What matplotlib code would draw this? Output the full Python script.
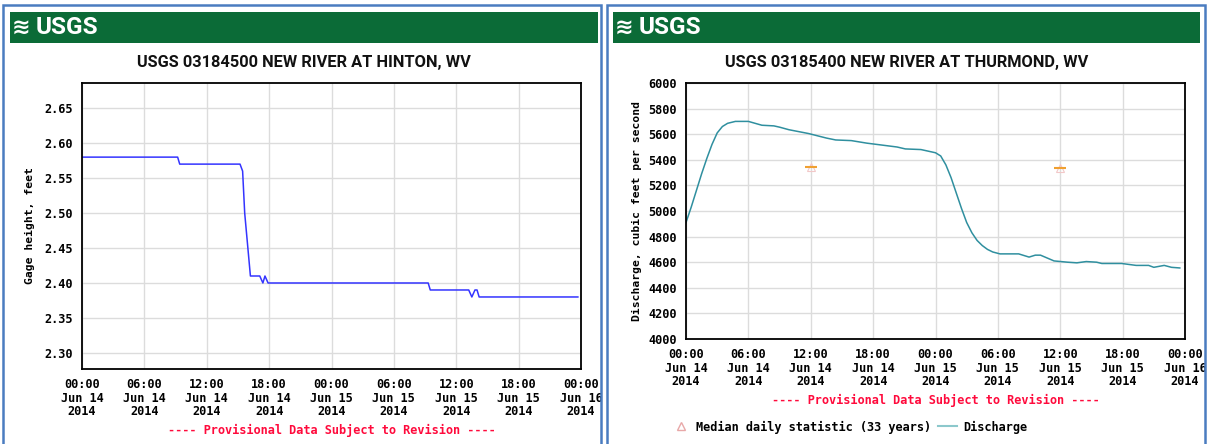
import datetime as dt
import matplotlib
matplotlib.use('Agg')
import matplotlib.pyplot as plt
import matplotlib.dates as mdates
from matplotlib.patches import Rectangle
from matplotlib.lines import Line2D

# --- data (hours after 00:00 Jun 14 2014) ---
start = dt.datetime(2014, 6, 14)

hinton_title = 'USGS 03184500 NEW RIVER AT HINTON, WV'
hinton_hours = [0, 9.2, 9.4, 15.2, 15.45, 15.65, 16.2, 17.1, 17.4, 17.6, 17.9,
                33.3, 33.5, 37.2, 37.5, 37.8, 38.0, 38.2, 47.7]
hinton_ft = [2.58, 2.58, 2.57, 2.57, 2.56, 2.50, 2.41, 2.41, 2.40, 2.41, 2.40,
             2.40, 2.39, 2.39, 2.38, 2.39, 2.39, 2.38, 2.38]

thurmond_title = 'USGS 03185400 NEW RIVER AT THURMOND, WV'
thurmond_hours = [0, 0.5, 1.0, 1.5, 2.0, 2.5, 3.0, 3.5, 4.0, 4.75, 6.0, 7.3, 8.45, 9.0,
                  9.9, 11.8, 13.5, 14.4, 15.9, 17.4, 18.85, 20.3, 21.1, 22.6, 24.0,
                  24.5, 25.0, 25.5, 26.0, 26.5, 27.0, 27.5, 28.0, 28.5, 29.0, 29.5,
                  30.2, 32.0, 33.0, 33.6, 34.1, 35.4, 36.7, 37.6, 38.5, 39.5, 40.0,
                  41.9, 43.3, 44.5, 45.0, 46.0, 46.7, 47.5]
thurmond_cfs = [4910, 5030, 5160, 5290, 5410, 5520, 5610, 5660, 5685, 5700, 5700, 5670, 5665, 5655,
                5635, 5605, 5570, 5555, 5550, 5530, 5515, 5500, 5485, 5480, 5455,
                5430, 5360, 5260, 5140, 5020, 4910, 4830, 4770, 4730, 4700, 4680,
                4665, 4665, 4640, 4655, 4655, 4610, 4600, 4595, 4605, 4600, 4590,
                4590, 4575, 4575, 4560, 4575, 4560, 4555]

median_hours = [12, 36]
median_cfs = [5340, 5335]

W, H = 1209, 444
mono = 'DejaVu Sans Mono'
narrow = ['Roboto', 'DejaVu Sans']
fs = 8.6
prov_red = '#ff0a3c'
prov_text = '---- Provisional Data Subject to Revision ----'


def to_time(hours):
    return [start + dt.timedelta(hours=h) for h in hours]


def fx(px):
    return px / W


def fy(py):
    return 1 - py / H


def make_axes(fig, left, top, right, bottom):
    return fig.add_axes([fx(left), fy(bottom), fx(right - left), (bottom - top) / H])


def style_axes(ax, ylim, yticks, yfmt):
    ax.set_xlim(start, start + dt.timedelta(hours=48))
    ax.set_ylim(ylim)
    ax.xaxis.set_major_locator(mdates.HourLocator(byhour=[0, 6, 12, 18]))
    ax.xaxis.set_major_formatter(mdates.DateFormatter('%H:%M\n%b %d\n%Y'))
    ax.set_yticks(yticks)
    ax.set_yticklabels([yfmt.format(v) for v in yticks])
    ax.grid(True, color='#dcdcdc', lw=1)
    ax.set_axisbelow(True)
    ax.tick_params(length=0, pad=6.5, labelsize=fs)
    for lab in ax.get_xticklabels() + ax.get_yticklabels():
        lab.set_family(mono)
        lab.set_fontweight('bold')
        lab.set_linespacing(1.05)
    for sp in ax.spines.values():
        sp.set_color('black')
        sp.set_linewidth(1.3)


fig = plt.figure(figsize=(W / 100, H / 100), dpi=100)

# panel decorations: banner, logo, title
for x0, x1, title in [(10, 598, hinton_title), (613, 1200, thurmond_title)]:
    fig.add_artist(Rectangle((fx(x0), fy(43)), fx(x1 - x0), 31 / H,
                             transform=fig.transFigure, color='#0b6b37', lw=0))
    fig.text(fx(x0 + 2), fy(28), '\u224b', color='white', fontsize=16,
             fontweight='bold', ha='left', va='center', family='DejaVu Sans')
    fig.text(fx(x0 + 26), fy(28), 'USGS', color='white', fontsize=17.5,
             fontweight='bold', ha='left', va='center', family=narrow)
    fig.text(fx((x0 + x1) / 2), fy(62), title, fontsize=11.8, fontweight='bold',
             ha='center', va='center', family=narrow, color='#111111')

# left: gage height at Hinton
ax1 = make_axes(fig, 82, 83, 581, 369)
ax1.plot(to_time(hinton_hours), hinton_ft, color='#3434ff', lw=1.1)
style_axes(ax1, (2.277, 2.686), [2.30, 2.35, 2.40, 2.45, 2.50, 2.55, 2.60, 2.65], '{:.2f}')
ax1.set_ylabel('Gage height, feet', family=mono, fontweight='bold', fontsize=fs - 0.4)
ax1.yaxis.set_label_coords(-0.094, 0.5)
fig.text(fx(331.5), fy(430), prov_text, ha='center', va='center', family=mono,
         fontsize=fs, fontweight='bold', color=prov_red)

# right: discharge at Thurmond
ax2 = make_axes(fig, 686, 83, 1185, 339)
ax2.plot(to_time(thurmond_hours), thurmond_cfs, color='#2f8f9f', lw=1.1)
ax2.plot(to_time(median_hours), median_cfs, ls='none', marker='^', ms=6,
         mfc='none', mec='#f2c8c8', mew=0.8)
ax2.plot(to_time(median_hours), median_cfs, ls='none', marker='_', ms=9,
         mec='#f0a030', mew=1.5)
style_axes(ax2, (4000, 6000), list(range(4000, 6001, 200)), '{:d}')
ax2.set_ylabel('Discharge, cubic feet per second', family=mono, fontweight='bold',
               fontsize=fs - 0.4)
ax2.yaxis.set_label_coords(-0.089, 0.5)
fig.text(fx(935.5), fy(400), prov_text, ha='center', va='center', family=mono,
         fontsize=fs, fontweight='bold', color=prov_red)

handles = [Line2D([], [], ls='none', marker='^', ms=6, mfc='none', mec='#e8a8a8'),
           Line2D([], [], color='#8cc8cc', lw=1.5)]
leg = fig.legend(handles, ['Median daily statistic (33 years)', 'Discharge'],
                 loc='center left', bbox_to_anchor=(fx(665), fy(427)), ncol=2,
                 frameon=False, handlelength=1.6, handletextpad=0.5, columnspacing=0.6,
                 borderpad=0, prop={'family': mono, 'weight': 'bold', 'size': fs})

# panel borders; the white strips clip the last tick label like the page does
for x0, x1 in [(602, 607), (1206, 1209)]:
    fig.add_artist(Rectangle((fx(x0), 0), fx(x1 - x0), 1, transform=fig.transFigure,
                             color='white', lw=0, zorder=5))
for x0, x1 in [(3, 601), (607, 1205)]:
    fig.add_artist(Rectangle((fx(x0), -0.05), fx(x1 - x0), fy(5) + 0.05,
                             transform=fig.transFigure, fill=False, ec='#4a7cc0',
                             lw=1.8, zorder=6))

fig.savefig('out.png', dpi=100)
